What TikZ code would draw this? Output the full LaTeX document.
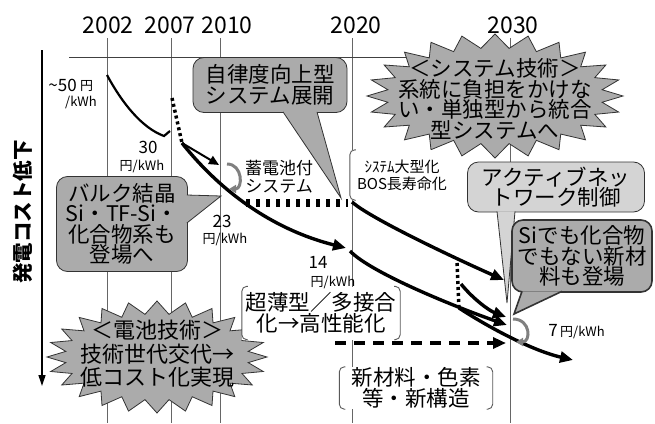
\documentclass[tikz,border=0pt]{standalone}
\usepackage{fontspec}
\setmainfont{Noto Sans CJK JP}
\usetikzlibrary{arrows.meta}

\begin{document}
\begin{tikzpicture}[x=1pt,y=-1pt]
\tikzstyle{yearline}=[draw=black!60,line width=0.8pt]
\tikzstyle{year}=[font=\fontsize{23}{23}\selectfont,inner sep=0pt]
\tikzstyle{price}=[font=\fontsize{17}{17}\selectfont,inner sep=0pt]
\tikzstyle{unit}=[font=\fontsize{13}{13}\selectfont,inner sep=0pt]
\tikzstyle{big}=[font=\fontsize{21.5}{20.5}\selectfont,align=center,inner sep=0pt]
\tikzstyle{box}=[big,draw=black!80,fill=black!33,line width=0.8pt,rounded corners=11pt]
\tikzstyle{tail}=[draw=black!80,fill=black!33,line width=0.8pt]
\tikzstyle{burst}=[draw=black!80,fill=black!33,line width=0.8pt]
\tikzstyle{tag}=[big,fill=white]
\tikzstyle{brk}=[draw=black!65,line width=0.9pt,rounded corners=5pt]
\tikzstyle{slope}=[line width=2.2pt]
\tikzstyle{trend}=[line width=3.4pt,-{Triangle[length=13pt,width=11pt]}]
\tikzstyle{dots}=[line width=3.5pt,dash pattern=on 3pt off 3pt]
\tikzstyle{uturn}=[draw=black!50,line width=3pt,-{Triangle[length=7pt,width=8pt]}]

\useasboundingbox (0,0) rectangle (655,423);

% year grid
\foreach \yr/\gx in {2002/107,2007/171,2010/220,2020/352,2030/510}{
  \coordinate (t\yr) at (\gx,38);
  \coordinate (b\yr) at (\gx,423);
  \draw[yearline] (t\yr) -- (b\yr);
}
\node[year] at (108,25) (y2002) {2002};
\node[year] at (170,25) (y2007) {2007};
\node[year] at (227,25) (y2010) {2010};
\node[year] at (356,25) (y2020) {2020};
\node[year] at (513,25) (y2030) {2030};
\coordinate (hl) at (69,57);
\coordinate (hr) at (560,57);
\draw[draw=black!75,line width=1pt] (hl) -- (hr);

% cost axis
\coordinate (ax0) at (42,50);
\coordinate (ax1) at (42,386);
\draw[line width=1.3pt,-{Triangle[length=11pt,width=7pt]}] (ax0) -- (ax1);
\node[rotate=90,font=\fontsize{20.5}{20.5}\selectfont\bfseries] at (23,212) (ylab) {発電コスト低下};

% system technology
\begin{scope}[shift={(495,96)}]
\filldraw[burst] (0:128 and 62) \foreach \a in {15,30,...,345}{ -- ({\a-7.5}:108 and 48) -- (\a:128 and 62) } -- (352.5:108 and 48) -- cycle;
\end{scope}
\node[big] at (495,99) (sys) {＜システム技術＞\\系統に負担をかけな\\い・単独型から統合\\型システムへ};

% cell technology
\begin{scope}[shift={(157,357)}]
\filldraw[burst] (0:110 and 56) \foreach \a in {15,30,...,345}{ -- ({\a-7.5}:92 and 43) -- (\a:110 and 56) } -- (352.5:92 and 43) -- cycle;
\end{scope}
\node[big,font=\fontsize{22}{23.5}\selectfont] at (157,354) (cell) {＜電池技術＞\\技術世代交代→\\低コスト化実現};

% callouts
\node[box,minimum width=154pt,minimum height=55pt] at (270,85) (auto) {自律度向上型\\システム展開};
\coordinate (tipa) at (341,198);
\filldraw[tail] ([xshift=13pt,yshift=1pt]auto.south) -- (tipa) -- ([xshift=47pt,yshift=1pt]auto.south);

\node[box,minimum width=131pt,minimum height=95pt] at (122,224) (bulk) {バルク結晶\\Si・TF-Si・\\化合物系も\\登場へ};
\coordinate (tipb) at (221,196);
\filldraw[tail] ([xshift=-1pt,yshift=29pt]bulk.east) -- (tipb) -- ([xshift=-1pt,yshift=1pt]bulk.east);

\node[box,fill=black!17,minimum width=177pt,minimum height=50pt] at (556,187) (anc) {アクティブネッ\\トワーク制御};
\coordinate (tipc) at (507,303);
\filldraw[tail,fill=black!17] ([xshift=-59pt,yshift=1pt]anc.south) -- (tipc) -- ([xshift=-41pt,yshift=1pt]anc.south);

\node[box,line width=1.6pt,minimum width=140pt,minimum height=72pt] at (582,256) (newm) {Siでも化合物\\でもない新材\\料も登場};
\coordinate (tipd) at (514,314);
\filldraw[tail,line width=1.6pt] ([xshift=-60pt,yshift=1.5pt]newm.south) -- (tipd) -- ([xshift=-20pt,yshift=1.5pt]newm.south);

% bracket tags
\node[font=\fontsize{17}{18}\selectfont,align=center,inner sep=0pt] at (279,177) (batt) {蓄電池付\\システム};
\node[tag,font=\fontsize{15}{17}\selectfont,minimum width=104pt,minimum height=50pt] at (402,175) (bos) {ｼｽﾃﾑ大型化\\BOS長寿命化};
\draw[brk] ([xshift=6pt]bos.north west) -- (bos.north west) -- (bos.south west) -- ([xshift=6pt]bos.south west);
\node[tag,minimum width=158pt,minimum height=53pt] at (321,313) (thin) {超薄型／多接合\\化→高性能化};
\draw[brk] ([xshift=6pt]thin.north west) -- (thin.north west) -- (thin.south west) -- ([xshift=6pt]thin.south west);
\draw[brk] ([xshift=-6pt]thin.north east) -- (thin.north east) -- (thin.south east) -- ([xshift=-6pt]thin.south east);
\node[tag,minimum width=153pt,minimum height=42pt] at (416,388) (newst) {新材料・色素\\等・新構造};
\draw[brk] ([xshift=6pt]newst.north west) -- (newst.north west) -- (newst.south west) -- ([xshift=6pt]newst.south west);
\draw[brk] ([xshift=-6pt]newst.north east) -- (newst.north east) -- (newst.south east) -- ([xshift=-6pt]newst.south east);

% cost paths
\coordinate (c02) at (107,75);
\coordinate (c07) at (170,131);
\coordinate (c07t) at (172,98);
\coordinate (c07b) at (182,143);
\coordinate (bat) at (219,165);
\coordinate (c20) at (346,248);
\coordinate (c20s) at (350,251);
\coordinate (batd) at (246,203);
\coordinate (bosd) at (348,203);
\coordinate (bosp) at (352,202);
\coordinate (m1) at (457,263);
\coordinate (m2) at (461,284);
\coordinate (m3) at (459,308);
\coordinate (e1) at (504,280);
\coordinate (e2) at (506,317);
\coordinate (e3) at (507,325);
\coordinate (e4) at (573,360);
\coordinate (d1) at (335,343);
\coordinate (d2) at (506,343);
\coordinate (u1) at (227,164);
\coordinate (u2) at (229,189);
\coordinate (v1) at (513,319);
\coordinate (v2) at (516,342);

\draw[slope] (c02) .. controls (122,103) and (142,128) .. (164,136) -- (c07);
\draw[dots] (c07t) -- (c07b);
\draw[line width=2pt,-{Triangle[length=10pt,width=9pt]}] (c07b) -- (bat);
\draw[trend] (c07b) .. controls (205,172) and (255,225) .. (c20);
\draw[line width=8pt,dash pattern=on 4pt off 6pt] (batd) -- (bosd);
\draw[trend] (bosp) .. controls (370,218) and (450,256) .. (e1);
\draw[dots] (m1) -- (m3);
\draw[trend] (m2) .. controls (474,300) and (490,311) .. (e2);
\draw[trend] (c20s) .. controls (370,272) and (450,305) .. (e3);
\draw[trend] (m3) .. controls (485,325) and (530,350) .. (e4);
\draw[trend,dash pattern=on 11pt off 8pt] (d1) -- (d2);
\draw[uturn] (u1) .. controls (243,164) and (243,189) .. (u2);
\draw[uturn] (v1) .. controls (531,319) and (531,342) .. (v2);

% prices
\node[price,anchor=east] at (77,85) (p50) {\textasciitilde50};
\node[unit,anchor=west] at (80,86) (p50y) {円};
\node[unit,anchor=east] at (97,102) (p50u) {/kWh};
\node[price] at (148,147) (p30) {30};
\node[unit] at (142,166) (p30u) {円/kWh};
\node[price] at (222,221) (p23) {23};
\node[unit] at (225,239) (p23u) {円/kWh};
\node[price] at (318,262) (p14) {14};
\node[unit] at (333,282) (p14u) {円/kWh};
\node[price,anchor=east] at (558,330) (p7) {7};
\node[unit,anchor=west] at (560,332) (p7u) {円/kWh};
\end{tikzpicture}
\end{document}
